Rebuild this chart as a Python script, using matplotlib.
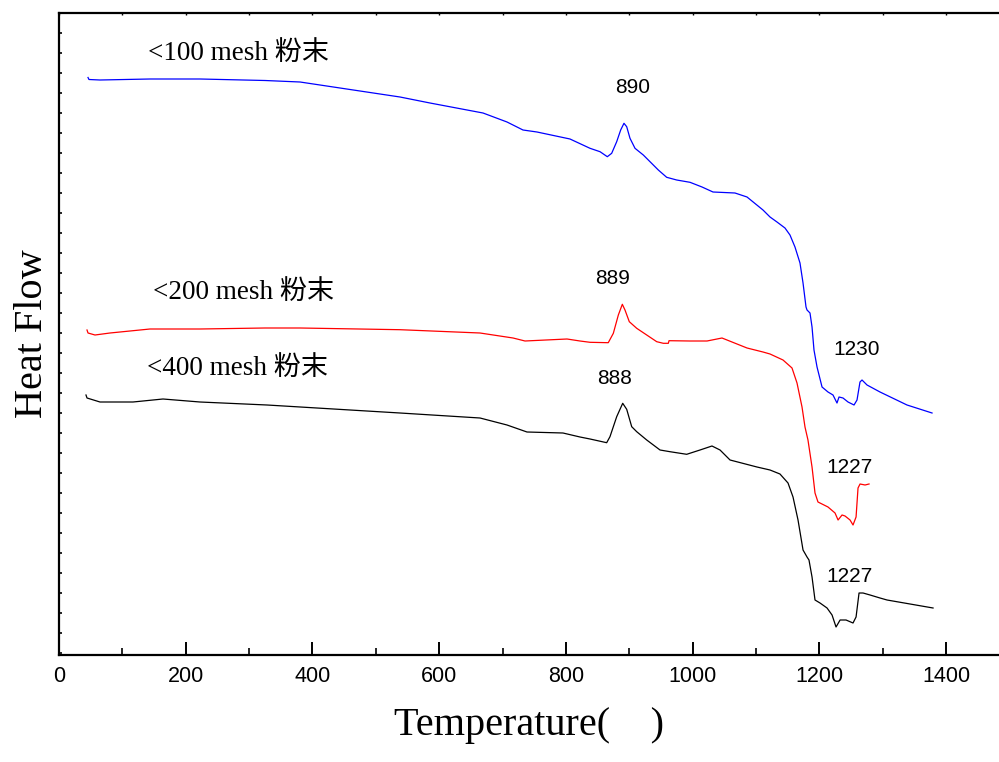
import numpy as np
import matplotlib
matplotlib.use("Agg")
import matplotlib.pyplot as plt
from matplotlib.ticker import MultipleLocator, FixedLocator

# temperature (C) / heat flow (arb. units)
t_100 = [45.8, 47.3, 64.7, 143.6, 222.5, 325.1, 380.4, 506.6, 538.2, 585.5,
         669.2, 707.1, 732.3, 754.4, 806.5, 838.1, 853.9, 865.4, 872.3, 880.2,
         886.5, 891.7, 896.0, 901.2, 909.1, 922.2, 932.8, 945.9, 959.1, 974.9,
         995.9, 1014.9, 1032.2, 1066.9, 1085.9, 1111.1,
         1122.2, 1133.2, 1145.8, 1153.7, 1161.6, 1169.5, 1174.3, 1179.0, 1180.6, 1185.3,
         1188.5, 1191.6, 1196.4, 1204.3, 1213.7, 1221.6, 1227.9, 1231.1, 1237.4, 1245.3,
         1254.8, 1259.5, 1264.2, 1267.4, 1275.3, 1295.8, 1338.4, 1377.9]
hf_100 = [5.775, 5.755, 5.75, 5.76, 5.76, 5.745, 5.73, 5.61, 5.58, 5.52,
          5.42, 5.33, 5.25, 5.23, 5.16, 5.067, 5.033, 4.983, 5.017, 5.133,
          5.25, 5.317, 5.283, 5.167, 5.067, 5.00, 4.933, 4.85, 4.777, 4.75,
          4.727, 4.68, 4.63, 4.62, 4.58, 4.45,
          4.38, 4.33, 4.27, 4.20, 4.08, 3.92, 3.72, 3.48, 3.45, 3.42,
          3.28, 3.05, 2.88, 2.68, 2.63, 2.60, 2.52, 2.58, 2.57, 2.53,
          2.50, 2.55, 2.73, 2.75, 2.70, 2.63, 2.50, 2.42]

t_200 = [44.2, 45.8, 56.8, 80.5, 143.6, 222.5, 325.1, 380.4, 538.2, 664.5,
         716.6, 735.5, 801.8, 822.3, 838.1, 866.9, 874.9, 882.8, 889.1, 893.3,
         900.1, 911.8, 927.6, 943.4, 953.8, 961.7, 962.8, 995.9, 1022.8, 1046.4,
         1085.9, 1111.1,
         1122.2, 1142.7, 1156.9, 1164.8, 1172.7, 1177.4, 1182.1, 1188.5, 1193.2, 1197.9,
         1213.7, 1224.8, 1229.6, 1235.9, 1240.6, 1248.5, 1253.2, 1258.0, 1261.1, 1264.3,
         1272.2, 1278.5]
hf_200 = [3.25, 3.22, 3.20, 3.22, 3.26, 3.26, 3.27, 3.27, 3.253, 3.22,
          3.17, 3.14, 3.16, 3.14, 3.127, 3.123, 3.217, 3.40, 3.507, 3.45,
          3.333, 3.267, 3.20, 3.133, 3.117, 3.117, 3.143, 3.14, 3.14, 3.17,
          3.07, 3.03,
          3.01, 2.95, 2.87, 2.72, 2.48, 2.28, 2.15, 1.88, 1.62, 1.53,
          1.48, 1.42, 1.35, 1.40, 1.39, 1.35, 1.30, 1.38, 1.67, 1.71,
          1.70, 1.71]

t_400 = [42.6, 44.2, 64.7, 116.8, 164.1, 222.5, 328.3, 538.2, 664.5, 707.1,
         738.6, 795.4, 822.3, 838.1, 864.4, 869.6, 880.2, 889.7, 896.0, 903.9,
         911.8, 927.6, 948.6, 964.3, 990.7, 1011.7, 1030.6, 1043.3, 1059.1, 1101.6,
         1122.2, 1137.9, 1150.6,
         1158.5, 1166.4, 1174.3, 1180.6, 1183.7, 1188.5, 1193.2, 1201.1, 1212.2, 1220.1,
         1226.4, 1232.8, 1242.2, 1253.2, 1258.0, 1262.7, 1269.0, 1280.1, 1295.8, 1306.9,
         1379.5]
hf_400 = [2.60, 2.57, 2.53, 2.53, 2.56, 2.53, 2.50, 2.42, 2.37, 2.30,
          2.23, 2.22, 2.18, 2.16, 2.123, 2.183, 2.383, 2.517, 2.457, 2.283,
          2.233, 2.15, 2.05, 2.033, 2.007, 2.05, 2.09, 2.05, 1.95, 1.88,
          1.85, 1.81, 1.72,
          1.58, 1.35, 1.05, 0.98, 0.95, 0.78, 0.55, 0.52, 0.47, 0.40,
          0.28, 0.35, 0.35, 0.32, 0.38, 0.62, 0.62, 0.60, 0.57, 0.55,
          0.47]

series_labels = ["<100 mesh 粉末", "<200 mesh 粉末", "<400 mesh 粉末"]
series_label_pos = [(140, 6.02), (148, 3.63), (139, 2.87)]
peak_text = ["890", "889", "888", "1230", "1227", "1227"]
peak_pos = [(906, 5.68), (874, 3.77), (877, 2.77), (1259, 3.06), (1248, 1.88), (1247, 0.78)]

serif = ["Liberation Serif", "Noto Sans CJK SC", "DejaVu Sans"]
sans = ["Liberation Sans", "DejaVu Sans"]

fig = plt.figure(figsize=(9.99, 7.62), dpi=100)
ax = fig.add_axes([59 / 999, 107 / 762, 940 / 999, 642 / 762])

ax.plot(t_100, hf_100, color="#0000ff", lw=0.9)
ax.plot(t_200, hf_200, color="#ff0000", lw=0.9)
ax.plot(t_400, hf_400, color="black", lw=0.9)

for s, (x, y) in zip(series_labels, series_label_pos):
    ax.text(x, y, s, fontsize=19.5, family=serif, ha="left", va="center")
for s, (x, y) in zip(peak_text, peak_pos):
    ax.text(x, y, s, fontsize=15, family=sans, ha="center", va="center")

ax.set_xlim(0, 1483.6)
ax.set_ylim(0, 6.42)

ax.spines["right"].set_visible(False)
ax.spines["top"].set_visible(False)
for side in ["left", "bottom"]:
    ax.spines[side].set_linewidth(1.6)

ax.xaxis.set_major_locator(MultipleLocator(200))
ax.xaxis.set_minor_locator(MultipleLocator(100))
ax.tick_params(axis="x", which="major", direction="in", length=9.5, width=1.4,
               labelsize=15.5, pad=8, top=False)
ax.tick_params(axis="x", which="minor", direction="in", length=5, width=1.2, top=False)
for lab in ax.get_xticklabels():
    lab.set_family(sans)

# tiny marks along the top frame
top = ax.secondary_xaxis("top")
top.xaxis.set_major_locator(MultipleLocator(100))
top.tick_params(direction="in", length=1.5, width=1.0, labeltop=False)
top.spines["top"].set_linewidth(1.6)

ax.yaxis.set_major_locator(FixedLocator(np.arange(0.02, 6.42, 0.2)))
ax.tick_params(axis="y", which="major", direction="in", length=2.5, width=1.2,
               labelleft=False)

ax.set_xlabel("Temperature(    )", fontsize=29, family=serif, labelpad=14)
ax.set_ylabel("Heat Flow", fontsize=29, family=serif, labelpad=6)

fig.savefig("out.png", dpi=100)
